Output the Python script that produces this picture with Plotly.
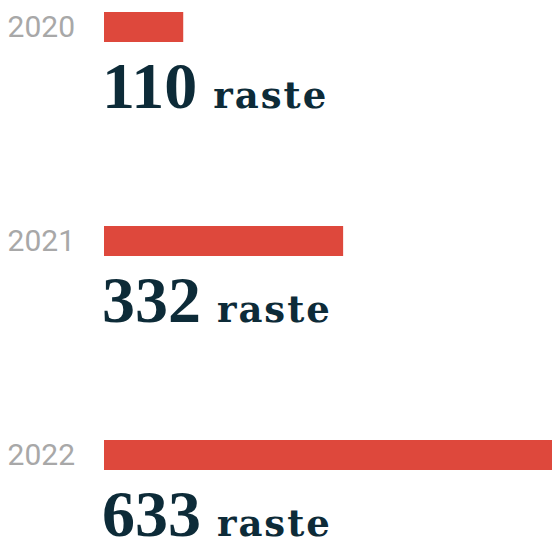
import plotly.graph_objects as go

years = ["2020", "2021", "2022"]
values = [110, 332, 633]
unit = "raste"

bar_color = "#de483c"
text_color = "#0d2b38"
year_color = "#a8a8a8"

ypos = list(range(len(years)))

fig = go.Figure()
fig.add_trace(go.Bar(
    x=values, y=ypos, orientation="h",
    marker=dict(color=bar_color, line=dict(width=0)),
    width=0.14, hoverinfo="skip",
))

num_font = "Liberation Serif, serif"
unit_font = "DejaVu Serif, serif"

for i, v in enumerate(values):
    fig.add_annotation(
        x=0, y=ypos[i], xref="x", yref="y",
        xanchor="left", yanchor="middle",
        yshift=-59, xshift=-4,
        showarrow=False,
        text=(f"<span style='font-family:{num_font};font-weight:bold;font-size:66px'>{v}</span>"
              f"<span style='font-size:50px'> </span>"
              f"<span style='font-family:{unit_font};font-weight:bold;font-size:37px;letter-spacing:2px'>{unit}</span>"),
        font=dict(color=text_color, size=37, family=unit_font),
    )

fig.update_layout(
    width=552, height=548,
    margin=dict(l=104, r=0, t=0, b=0),
    paper_bgcolor="white", plot_bgcolor="white",
    showlegend=False,
    xaxis=dict(range=[0, 622], visible=False, fixedrange=True, automargin=False),
    yaxis=dict(
        range=[2.435, -0.126],
        tickvals=ypos, ticktext=years,
        ticks="outside", ticklen=22, tickcolor="rgba(0,0,0,0)",
        tickfont=dict(family="Roboto, sans-serif", size=30, color=year_color),
        showgrid=False, zeroline=False, showline=False, automargin=False,
        fixedrange=True,
    ),
)

fig.write_html("out.html", config={"displayModeBar": False},
               post_script="document.body.style.margin='0';document.body.style.padding='0';")
